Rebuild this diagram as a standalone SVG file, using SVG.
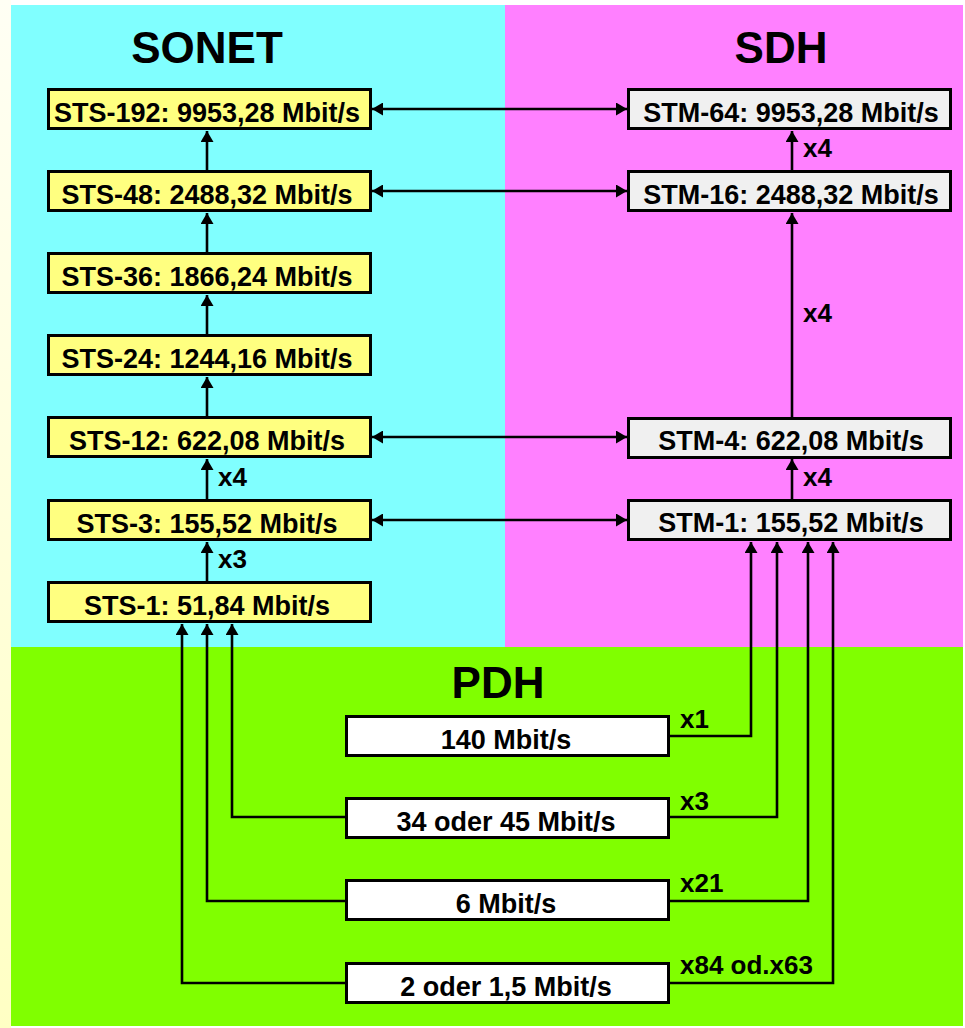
<svg xmlns="http://www.w3.org/2000/svg" width="965" height="1028" viewBox="0 0 965 1028">
<defs>
<linearGradient id="strip" x1="0" y1="0" x2="0" y2="1">
<stop offset="0" stop-color="#FFFFF4"/>
<stop offset="1" stop-color="#FFFFC4"/>
</linearGradient>
<marker id="ah" viewBox="0 0 11 13" refX="11" refY="6.5" markerWidth="11" markerHeight="13" markerUnits="userSpaceOnUse" orient="auto-start-reverse">
<path d="M0,0 L11,6.5 L0,13 z" fill="#000"/>
</marker>
<style>
.t{font-family:"Liberation Sans",Arial,sans-serif;font-weight:bold;fill:#000}
.title{font-size:44px;text-anchor:middle}
.bt{font-size:27px;text-anchor:middle}
.lb{font-size:26px}
.sonet{fill:#FFFF80;stroke:#000;stroke-width:3}
.sdh{fill:#F0F0F0;stroke:#000;stroke-width:3}
.pdh{fill:#FFFFFF;stroke:#000;stroke-width:3}
.c{fill:none;stroke:#000;stroke-width:2.6}
.a{marker-end:url(#ah)}
.aa{marker-start:url(#ah);marker-end:url(#ah)}
</style>
</defs>
<rect x="0" y="0" width="965" height="1028" fill="#FFFFFF"/>
<rect x="0" y="0" width="11" height="1028" fill="url(#strip)"/>
<rect x="11" y="5" width="494" height="643" fill="#80FFFF"/>
<rect x="505" y="5" width="458" height="643" fill="#FF80FF"/>
<rect x="11" y="647" width="952" height="379" fill="#80FF00"/>

<g id="titles">
<text class="t title" x="207" y="63">SONET</text>
<text class="t title" x="781" y="63">SDH</text>
<text class="t title" x="498" y="698">PDH</text>
</g>

<g id="connectors">
<line class="c a" x1="207" y1="170" x2="207" y2="131"/>
<line class="c a" x1="207" y1="252" x2="207" y2="213"/>
<line class="c a" x1="207" y1="334" x2="207" y2="295"/>
<line class="c a" x1="207" y1="416" x2="207" y2="377"/>
<line class="c a" x1="207" y1="499" x2="207" y2="459"/>
<line class="c a" x1="207" y1="581" x2="207" y2="542"/>
<line class="c aa" x1="372" y1="109" x2="627" y2="109"/>
<line class="c aa" x1="372" y1="191" x2="627" y2="191"/>
<line class="c aa" x1="372" y1="437" x2="627" y2="437"/>
<line class="c aa" x1="372" y1="520" x2="627" y2="520"/>
<line class="c a" x1="792" y1="170" x2="792" y2="131"/>
<line class="c a" x1="792" y1="417" x2="792" y2="213"/>
<line class="c a" x1="792" y1="499" x2="792" y2="459"/>
<polyline class="c a" points="669,736 751,736 751,542"/>
<polyline class="c a" points="669,817 777,817 777,542"/>
<polyline class="c a" points="669,901 808,901 808,542"/>
<polyline class="c a" points="669,983 833,983 833,542"/>
<polyline class="c a" points="345,817 232,817 232,624"/>
<polyline class="c a" points="345,901 207,901 207,624"/>
<polyline class="c a" points="345,983 182,983 182,624"/>
</g>

<g id="labels">
<text class="t lb" x="218" y="486">x4</text>
<text class="t lb" x="218" y="568">x3</text>
<text class="t lb" x="803" y="157">x4</text>
<text class="t lb" x="803" y="322">x4</text>
<text class="t lb" x="803" y="486">x4</text>
<text class="t lb" x="680" y="728">x1</text>
<text class="t lb" x="680" y="810">x3</text>
<text class="t lb" x="680" y="892">x21</text>
<text class="t lb" x="680" y="974">x84 od.x63</text>
</g>

<g id="sts192"><rect class="sonet" x="48.5" y="89.5" width="322" height="39"/><text class="t bt" x="207" y="122">STS-192: 9953,28 Mbit/s</text></g>
<g id="sts48"><rect class="sonet" x="48.5" y="171.5" width="322" height="39"/><text class="t bt" x="207" y="204">STS-48: 2488,32 Mbit/s</text></g>
<g id="sts36"><rect class="sonet" x="48.5" y="253.5" width="322" height="39"/><text class="t bt" x="207" y="286">STS-36: 1866,24 Mbit/s</text></g>
<g id="sts24"><rect class="sonet" x="48.5" y="335.5" width="322" height="39"/><text class="t bt" x="207" y="368">STS-24: 1244,16 Mbit/s</text></g>
<g id="sts12"><rect class="sonet" x="48.5" y="417.5" width="322" height="39"/><text class="t bt" x="207" y="450">STS-12: 622,08 Mbit/s</text></g>
<g id="sts3"><rect class="sonet" x="48.5" y="500.5" width="322" height="39"/><text class="t bt" x="207" y="533">STS-3: 155,52 Mbit/s</text></g>
<g id="sts1"><rect class="sonet" x="48.5" y="582.5" width="322" height="39"/><text class="t bt" x="207" y="615">STS-1: 51,84 Mbit/s</text></g>

<g id="stm64"><rect class="sdh" x="628.5" y="89.5" width="322" height="39"/><text class="t bt" x="791" y="122">STM-64: 9953,28 Mbit/s</text></g>
<g id="stm16"><rect class="sdh" x="628.5" y="171.5" width="322" height="39"/><text class="t bt" x="791" y="204">STM-16: 2488,32 Mbit/s</text></g>
<g id="stm4"><rect class="sdh" x="628.5" y="418.5" width="322" height="39"/><text class="t bt" x="791" y="450">STM-4: 622,08 Mbit/s</text></g>
<g id="stm1"><rect class="sdh" x="628.5" y="500.5" width="322" height="39"/><text class="t bt" x="791" y="532">STM-1: 155,52 Mbit/s</text></g>

<g id="pdh140"><rect class="pdh" x="346.5" y="716.5" width="322" height="39"/><text class="t bt" x="506" y="749">140 Mbit/s</text></g>
<g id="pdh34"><rect class="pdh" x="346.5" y="798.5" width="322" height="39"/><text class="t bt" x="506" y="831">34 oder 45 Mbit/s</text></g>
<g id="pdh6"><rect class="pdh" x="346.5" y="880.5" width="322" height="39"/><text class="t bt" x="506" y="913">6 Mbit/s</text></g>
<g id="pdh2"><rect class="pdh" x="346.5" y="963.5" width="322" height="39"/><text class="t bt" x="506" y="996">2 oder 1,5 Mbit/s</text></g>
</svg>
